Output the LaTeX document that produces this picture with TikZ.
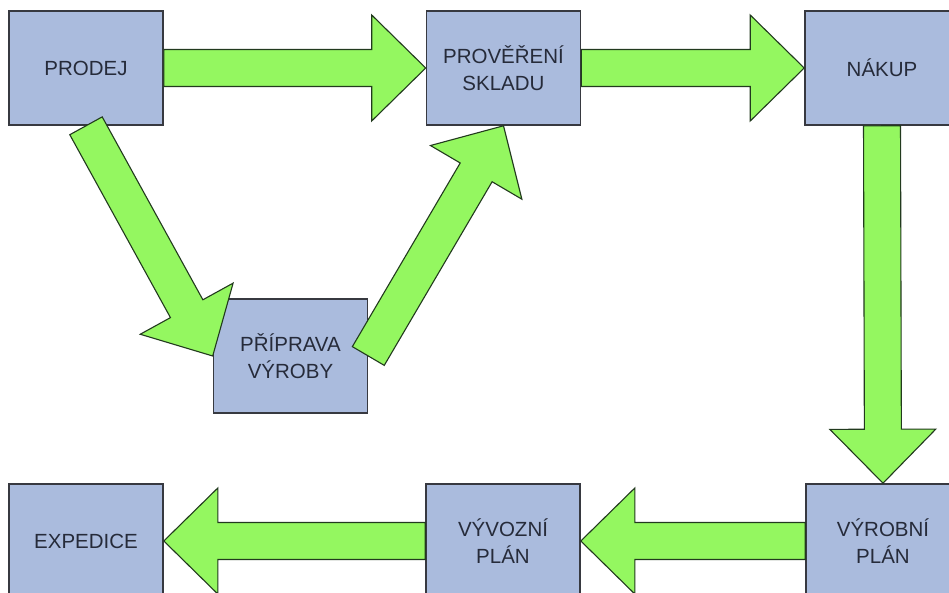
\documentclass[tikz,border=0pt]{standalone}
\usepackage{fontspec}
\setmainfont{Liberation Sans}
\usetikzlibrary{calc}

\definecolor{boxfill}{RGB}{170,187,221}
\definecolor{boxline}{RGB}{55,57,64}
\definecolor{labeltext}{RGB}{38,43,58}
\definecolor{arrowfill}{RGB}{148,247,96}
\definecolor{arrowline}{RGB}{34,58,30}

\tikzset{
  stage/.style={draw=boxline, line width=1.6pt, fill=boxfill,
    minimum width=154pt, minimum height=114pt, inner sep=0pt,
    align=center, text=labeltext,
    font=\fontsize{20.5}{27}\selectfont},
  blockarrow/.style={draw=arrowline, line width=1.1pt, fill=arrowfill,
    line join=miter}
}

% Wide block arrow from tail point #1 to tip point #2
\newcommand{\flowarrow}[2]{%
  \coordinate (hb) at ($(#2)!54pt!(#1)$);
  \draw[blockarrow]
    ($(#1)!18.5pt!90:(#2)$) --
    ($(hb)!18.5pt!90:(#2)$) --
    ($(hb)!53pt!90:(#2)$) --
    (#2) --
    ($(hb)!53pt!-90:(#2)$) --
    ($(hb)!18.5pt!-90:(#2)$) --
    ($(#1)!18.5pt!-90:(#2)$) -- cycle;
}

\begin{document}
\begin{tikzpicture}[x=1pt, y=-1pt]
  \clip (0,0) rectangle (949,593);
  \fill[white] (0,0) rectangle (949,593);

  % process stages
  \node[stage] (prodej) at (86,68)    {PRODEJ};
  \node[stage] (sklad)  at (503.5,68) {PROVĚŘENÍ\\SKLADU};
  \node[stage] (nakup)  at (882,68)   {NÁKUP};
  \node[stage] (pripr)  at (290.5,356) {PŘÍPRAVA\\VÝROBY};
  \node[stage] (exped)  at (86,541)   {EXPEDICE};
  \node[stage] (vyvoz)  at (503,541)  {VÝVOZNÍ\\PLÁN};
  \node[stage] (vyrob)  at (883,541)  {VÝROBNÍ\\PLÁN};

  % flow between stages
  \flowarrow{prodej.east}{sklad.west}
  \flowarrow{sklad.east}{nakup.west}
  \flowarrow{prodej.south}{pripr.west}
  \flowarrow{pripr.east}{sklad.south}
  \flowarrow{nakup.south}{vyrob.north}
  \flowarrow{vyrob.west}{vyvoz.east}
  \flowarrow{vyvoz.west}{exped.east}
\end{tikzpicture}
\end{document}
